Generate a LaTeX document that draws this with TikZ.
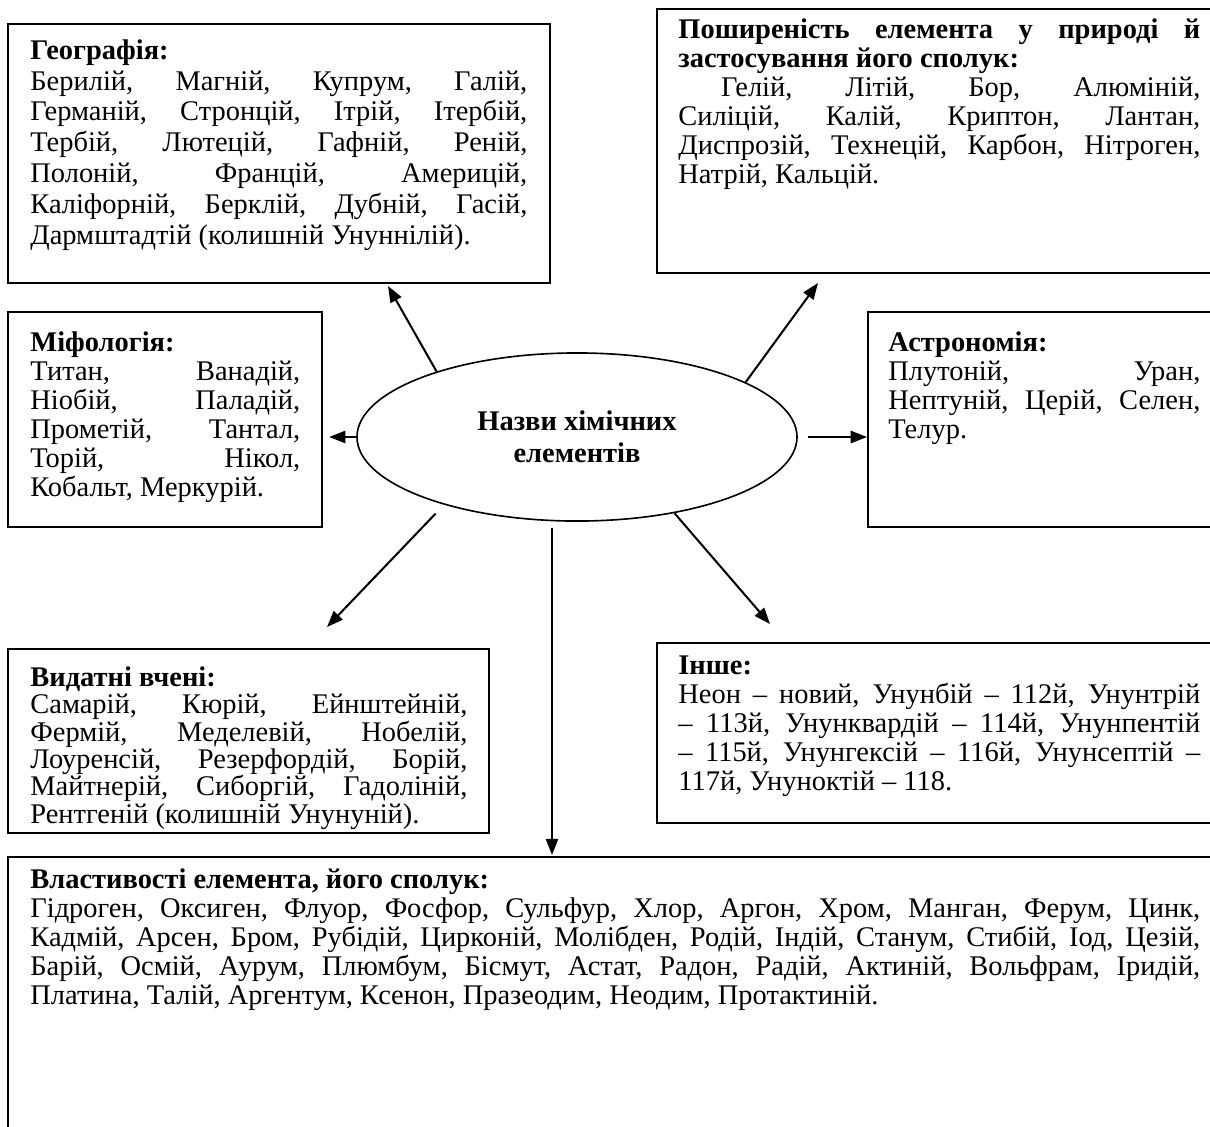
\documentclass[tikz,border=0pt]{standalone}
\usepackage{fontspec}
\setmainfont{Liberation Serif}
\usetikzlibrary{shapes.geometric,arrows.meta,fit}
\hyphenpenalty=10000
\exhyphenpenalty=10000
\tolerance=9999
\tikzset{
  frame/.style={draw, line width=1pt, inner sep=0pt},
  txt/.style={anchor=north west, inner sep=0pt, align=justify, font=\fontsize{14}{#1}\selectfont},
  txt/.default=14.3,
  hub/.style={draw, ellipse, line width=0.8pt, inner sep=0pt, minimum width=216.5pt, minimum height=82.7pt, align=center, font=\fontsize{14}{15.5}\selectfont\bfseries},
  arr/.style={line width=1pt, -{Triangle[length=8pt,width=6pt]}},
}
\begin{document}
\begin{tikzpicture}[x=0.492pt, y=-0.492pt]
  \useasboundingbox (0,0) rectangle (1210,1126);

  % frames
  \node[frame, fit={(8,24) (550,283)}] (geo) {};
  \node[frame, fit={(657,9) (1216,273)}] (nature) {};
  \node[frame, fit={(8,312) (322,527)}] (myth) {};
  \node[frame, fit={(868,312) (1216,527)}] (astro) {};
  \node[frame, fit={(8,649) (489,833)}] (sci) {};
  \node[frame, fit={(657,643) (1216,823)}] (other) {};
  \node[frame, fit={(8,857) (1216,1132)}] (props) {};

  % centre
  \node[hub] (ell) at (577,437) {Назви хімічних\\елементів};

  % texts
  \node[txt=15.2, text width=244.5pt] (geoText) at (30,39) {\textbf{Географія:}\\
    Берилій, Магній, Купрум, Галій,\linebreak
    Германій, Стронцій, Ітрій, Ітербій,\linebreak
    Тербій, Лютецій, Гафній, Реній,\linebreak
    Полоній, Францій, Америцій,\linebreak
    Каліфорній, Берклій, Дубній, Гасій,\linebreak
    Дармштадтій (колишній Унуннілій).};
  \node[txt, text width=256.8pt] (natureText) at (678,18) {\textbf{Поширеність елемента у природі й\linebreak
    застосування його сполук:}\\
    \hspace*{21pt}Гелій, Літій, Бор, Алюміній,\linebreak
    Силіцій, Калій, Криптон, Лантан,\linebreak
    Диспрозій, Технецій, Карбон, Нітроген,\linebreak
    Натрій, Кальцій.};
  \node[txt, text width=132.8pt] (mythText) at (30,331) {\textbf{Міфологія:}\\
    Титан, Ванадій,\linebreak
    Ніобій, Паладій,\linebreak
    Прометій, Тантал,\linebreak
    Торій, Нікол,\linebreak
    Кобальт, Меркурій.};
  \node[txt, text width=153.5pt] (astroText) at (888,331) {\textbf{Астрономія:}\\
    Плутоній, Уран,\linebreak
    Нептуній, Церій, Селен,\linebreak
    Телур.};
  \node[txt=13.5, text width=215pt] (sciText) at (30,666) {\textbf{Видатні вчені:}\\
    Самарій, Кюрій, Ейнштейній,\linebreak
    Фермій, Меделевій, Нобелій,\linebreak
    Лоуренсій, Резерфордій, Борій,\linebreak
    Майтнерій, Сиборгій, Гадоліній,\linebreak
    Рентгеній (колишній Унунуній).};
  \node[txt, text width=256.8pt] (otherText) at (678,655) {\textbf{Інше:}\\
    Неон – новий, Унунбій – 112й, Унунтрій\linebreak
    – 113й, Унунквардій – 114й, Унунпентій\linebreak
    – 115й, Унунгексій – 116й, Унунсептій –\linebreak
    117й, Унуноктій – 118.};
  \node[txt, text width=575.6pt] (propsText) at (30,868) {\textbf{Властивості елемента, його сполук:}\\
    Гідроген, Оксиген, Флуор, Фосфор, Сульфур, Хлор, Аргон, Хром, Манган, Ферум, Цинк,\linebreak
    Кадмій, Арсен, Бром, Рубідій, Цирконій, Молібден, Родій, Індій, Станум, Стибій, Іод, Цезій,\linebreak
    Барій, Осмій, Аурум, Плюмбум, Бісмут, Астат, Радон, Радій, Актиній, Вольфрам, Іридій,\linebreak
    Платина, Талій, Аргентум, Ксенон, Празеодим, Неодим, Протактиній.};

  % arrow tips
  \coordinate (geoTip) at (388,286);
  \coordinate (natureTip) at (818,283);
  \coordinate (sciTip) at (327,627);
  \coordinate (otherTip) at (770,624);
  \coordinate (propsTip) at (552,855);

  % arrows
  \draw[arr] (ell.155) -- (geoTip);
  \draw[arr] (ell.18) -- (natureTip);
  \draw[arr] (ell.west) -- ([xshift=3pt]myth.east |- ell.west);
  \draw[arr] ([xshift=5pt]ell.east) -- (astro.west |- ell.east);
  \draw[arr, shorten <=6pt] (ell.207) -- (sciTip);
  \draw[arr] (ell.-38) -- (otherTip);
  \draw[arr] (ell.south -| propsTip) ++(0,6) -- (propsTip);
\end{tikzpicture}
\end{document}
